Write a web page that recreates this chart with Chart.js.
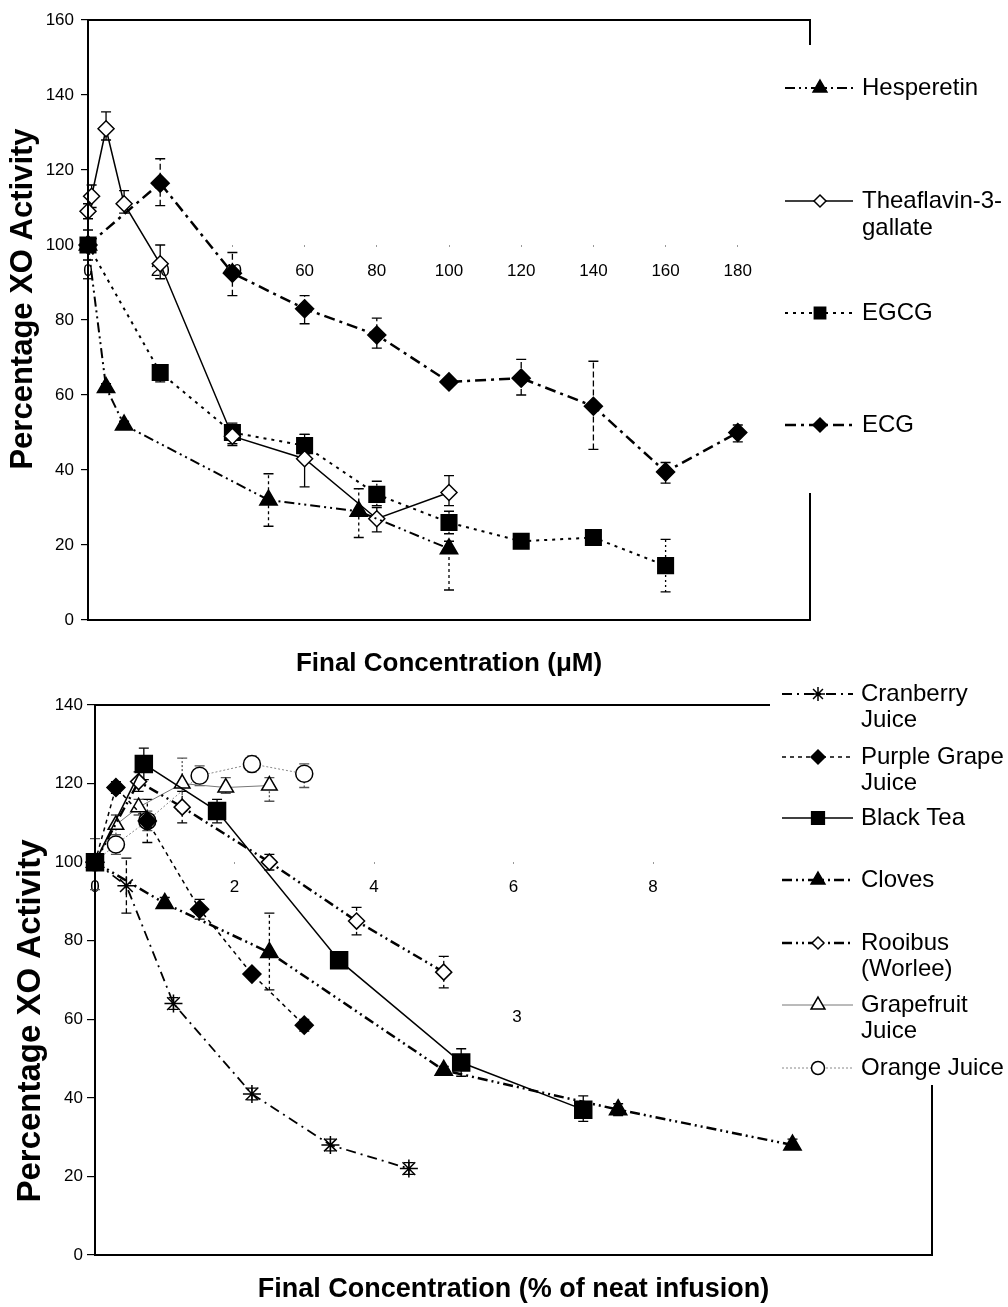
<!DOCTYPE html>
<html><head><meta charset="utf-8">
<script src="https://cdn.jsdelivr.net/npm/chart.js@4.4.1/dist/chart.umd.min.js"></script>
<style>
html,body{margin:0;padding:0;background:#fff;}
#wrap{position:relative;width:1008px;height:1307px;}
canvas{position:absolute;left:0;}
</style>
</head><body>
<div id="wrap">
<canvas id="c1" width="1008" height="680" style="top:0px"></canvas>
<canvas id="c2" width="1008" height="627" style="top:680px"></canvas>
</div>
<script>
// ---------------- TOP CHART DATA (µM) ----------------
const topXTicks = [0, 20, 40, 60, 80, 100, 120, 140, 160, 180, 200];
const topYTicks = [0, 20, 40, 60, 80, 100, 120, 140, 160];

const hespX  = [0, 5, 10, 50, 75, 100];
const hespY  = [100, 62, 52, 32, 29, 19];
const hespLo = [91, 61, 51, 25, 22, 8];
const hespHi = [100, 63, 53, 39, 35, 21];

const tf3gX  = [0, 1, 5, 10, 20, 40, 60, 80, 100];
const tf3gY  = [109, 113, 131, 111, 95, 49, 43, 27, 34];
const tf3gLo = [107, 110, 128, 108.5, 91, 47, 35.5, 23.5, 30.5];
const tf3gHi = [111, 116, 135.5, 114.5, 100, 52, 49.5, 30, 38.5];

const egcgX  = [0, 20, 40, 60, 80, 100, 120, 140, 160];
const egcgY  = [100, 66, 50, 46.5, 33.5, 26, 21, 22, 14.5];
const egcgLo = [96, 63.5, 46.5, 44, 30.5, 23, 19.5, 20.5, 7.5];
const egcgHi = [104, 68, 52.5, 49.5, 37, 29, 22.5, 23.5, 21.5];

const ecgX  = [0, 20, 40, 60, 80, 100, 120, 140, 160, 180];
const ecgY  = [100, 116.5, 92.5, 83, 76, 63.5, 64.5, 57, 39.5, 50];
const ecgLo = [100, 110.5, 86.5, 79, 72.5, 62.5, 60, 45.5, 36.5, 47.5];
const ecgHi = [100, 123, 98, 86.5, 80.5, 64.5, 69.5, 69, 42, 52];

const topLegend = [['Hesperetin'], ['Theaflavin-3-', 'gallate'], ['EGCG'], ['ECG']];

// ---------------- BOTTOM CHART DATA (% of neat infusion) ----------------
const botXTicks = [0, 2, 4, 6, 8, 10, 12];
const botYTicks = [0, 20, 40, 60, 80, 100, 120, 140];

const cranX  = [0, 0.45, 1.125, 2.25, 3.375, 4.5];
const cranY  = [100, 94, 64, 41, 28, 22];
const cranLo = [100, 87, 62.5, 39.5, 26.5, 20.5];
const cranHi = [100, 101, 65.5, 42.5, 29.5, 23.5];

const grapeX  = [0, 0.3, 0.75, 1.5, 2.25, 3];
const grapeY  = [100, 119, 110.5, 88, 71.5, 58.5];
const grapeLo = [100, 117.5, 105, 85.5, 70.5, 57];
const grapeHi = [100, 120.5, 116, 90.5, 72.5, 60];

const teaX  = [0, 0.7, 1.75, 3.5, 5.25, 7];
const teaY  = [100, 125, 113, 75, 49, 37];
const teaLo = [100, 121, 110, 74, 45.5, 34];
const teaHi = [100, 129, 116, 76, 52.5, 40.5];

const cloveX  = [0, 1, 2.5, 5, 7.5, 10];
const cloveY  = [100, 89.5, 77, 47, 37, 28];
const cloveLo = [100, 88.5, 67.5, 46, 35.5, 27];
const cloveHi = [100, 91, 87, 48, 38.5, 29.5];

const rooiX  = [0, 0.625, 1.25, 2.5, 3.75, 5];
const rooiY  = [100, 120.5, 114, 100, 85, 72];
const rooiLo = [100, 118, 110, 98, 81.5, 68];
const rooiHi = [100, 123, 118, 102, 88.5, 76];

const gfruitX  = [0, 0.3, 0.625, 1.25, 1.875, 2.5];
const gfruitY  = [100, 109.5, 114, 120, 119, 119.5];
const gfruitLo = [100, 107, 112, 113, 117.5, 115.5];
const gfruitHi = [100, 112, 116, 126.5, 121.5, 121.5];

const orangeX  = [0, 0.3, 0.75, 1.5, 2.25, 3];
const orangeY  = [100, 104.5, 110.5, 122, 125, 122.5];
const orangeLo = [93, 102, 108, 119.5, 123, 119];
const orangeHi = [106, 107, 113, 124.5, 127, 125];

const botLegend = [['Cranberry', 'Juice'], ['Purple Grape', 'Juice'], ['Black Tea'], ['Cloves'],
                   ['Rooibus', '(Worlee)'], ['Grapefruit', 'Juice'], ['Orange Juice']];
const botStrayLabels = [{ text: '3', x: 6.05, y: 60.5 }];

const yTitleText = 'Percentage XO Activity';

// ---------------- helpers ----------------
const FONT = "'Liberation Sans', Arial, Helvetica, sans-serif";
const pts = (xs, ys) => xs.map((x, i) => ({ x: x, y: ys[i] }));

function series(label, xs, ys, lo, hi, st) {
  return Object.assign({
    label: label, data: pts(xs, ys), errLo: lo, errHi: hi,
    xAxisID: 'x', yAxisID: 'y', showLine: true, tension: 0,
    borderColor: '#000', pointBorderColor: '#000', pointBorderWidth: 1.5,
    pointHoverRadius: 0, clip: false
  }, st);
}

const errorBarPlugin = {
  id: 'errorBars',
  beforeDatasetsDraw(chart) {
    const ctx = chart.ctx, xs = chart.scales.x, ys = chart.scales.y;
    chart.data.datasets.forEach(ds => {
      if (!ds.errLo) return;
      ctx.save();
      ctx.strokeStyle = ds.errColor || '#000';
      ctx.lineWidth = 1.3;
      ds.data.forEach((p, i) => {
        const lo = ds.errLo[i], hi = ds.errHi[i];
        if (lo === p.y && hi === p.y) return;
        const px = xs.getPixelForValue(p.x);
        const pl = ys.getPixelForValue(lo), ph = ys.getPixelForValue(hi);
        ctx.setLineDash(ds.errDash || []);
        ctx.beginPath(); ctx.moveTo(px, pl); ctx.lineTo(px, ph); ctx.stroke();
        ctx.setLineDash([]);
        ctx.beginPath();
        if (lo < p.y) { ctx.moveTo(px - 5, pl); ctx.lineTo(px + 5, pl); }
        if (hi > p.y) { ctx.moveTo(px - 5, ph); ctx.lineTo(px + 5, ph); }
        ctx.stroke();
      });
      ctx.restore();
    });
  }
};

function drawMarker(ctx, style, r, x, y, bw) {
  if (Chart.helpers && Chart.helpers.drawPoint) {
    Chart.helpers.drawPoint(ctx, { pointStyle: style, radius: r, rotation: 0, borderWidth: bw }, x, y);
  }
}

const framePlugin = {
  id: 'frame',
  afterDraw(chart, args, opts) {
    const ctx = chart.ctx, a = chart.chartArea;
    ctx.save();
    ctx.strokeStyle = '#000'; ctx.lineWidth = 2; ctx.setLineDash([]);
    ctx.strokeRect(a.left, a.top, a.right - a.left, a.bottom - a.top);
    // vertical axis title
    const T = opts.yTitle;
    ctx.save();
    ctx.translate(T.x, T.y); ctx.rotate(-Math.PI / 2);
    ctx.fillStyle = '#000'; ctx.font = 'bold ' + T.size + 'px ' + FONT;
    ctx.textAlign = 'center'; ctx.textBaseline = 'middle';
    ctx.fillText(T.text, 0, 0);
    ctx.restore();
    // stray labels
    (opts.labels || []).forEach(l => {
      ctx.fillStyle = '#000'; ctx.font = '17px ' + FONT;
      ctx.textAlign = 'center'; ctx.textBaseline = 'middle';
      ctx.fillText(l.text, chart.scales.x.getPixelForValue(l.x), chart.scales.y.getPixelForValue(l.y));
    });
    // legend
    const L = opts.legend;
    ctx.fillStyle = '#fff';
    ctx.fillRect(L.box[0], L.box[1], L.box[2], L.box[3]);
    chart.data.datasets.forEach((ds, i) => {
      const y = L.ys[i];
      ctx.strokeStyle = ds.borderColor; ctx.lineWidth = ds.borderWidth;
      ctx.setLineDash(ds.borderDash || []);
      ctx.beginPath(); ctx.moveTo(L.x1, y); ctx.lineTo(L.x2, y); ctx.stroke();
      ctx.setLineDash([]);
      ctx.fillStyle = ds.pointBackgroundColor; ctx.strokeStyle = '#000';
      ctx.lineWidth = ds.pointBorderWidth;
      drawMarker(ctx, ds.pointStyle, ds.legendRadius, L.xm, y, ds.pointBorderWidth);
      ctx.fillStyle = '#000'; ctx.font = L.fontSize + 'px ' + FONT;
      ctx.textAlign = 'left'; ctx.textBaseline = 'middle';
      ds.legendLines.forEach((t, k) => ctx.fillText(t, L.xt, y + k * L.lh));
    });
    ctx.restore();
  }
};

function axes(o) {
  return {
    x: {
      type: 'linear', position: { y: 100 }, min: o.xTicks[0], max: o.xTicks[o.xTicks.length - 1],
      afterBuildTicks: s => { s.ticks = o.xTicks.map(v => ({ value: v })); },
      ticks: { autoSkip: false, maxRotation: 0, color: '#000', font: { family: FONT, size: 17 }, padding: o.xPad },
      grid: { drawOnChartArea: false, drawTicks: true, tickLength: 2, color: '#999', lineWidth: 1 },
      border: { display: false }
    },
    xt: {
      type: 'linear', position: 'bottom', display: true,
      ticks: { display: false }, grid: { display: false }, border: { display: false },
      title: { display: true, text: o.xTitle, color: '#000',
               font: { family: FONT, size: o.xTitleSize, weight: 'bold' }, padding: { top: 0, bottom: 1 } },
      afterFit: s => { s.height = o.xtHeight; }
    },
    y: {
      type: 'linear', min: o.yTicks[0], max: o.yTicks[o.yTicks.length - 1],
      afterBuildTicks: s => { s.ticks = o.yTicks.map(v => ({ value: v })); },
      ticks: { color: '#000', font: { family: FONT, size: 17 }, padding: o.yPad },
      grid: { drawOnChartArea: false, drawTicks: true, tickLength: o.yTick, color: '#000', lineWidth: 1.2 },
      border: { display: false },
      title: { display: false },
      afterFit: s => { s.width = o.yWidth; }
    }
  };
}

const common = {
  type: 'scatter',
  plugins: [errorBarPlugin, framePlugin]
};

// ---------------- TOP CHART ----------------
new Chart(document.getElementById('c1'), Object.assign({}, common, {
  data: {
    datasets: [
      series('Hesperetin', hespX, hespY, hespLo, hespHi, {
        borderWidth: 2, borderDash: [10, 4, 2, 4, 2, 4], errDash: [3, 3],
        pointStyle: 'triangle', pointRadius: 10, pointBackgroundColor: '#000', legendRadius: 8, legendLines: topLegend[0] }),
      series('Theaflavin-3-gallate', tf3gX, tf3gY, tf3gLo, tf3gHi, {
        borderWidth: 1.5, borderDash: [],
        pointStyle: 'rectRot', pointRadius: 8, pointBackgroundColor: '#fff', legendRadius: 6, legendLines: topLegend[1] }),
      series('EGCG', egcgX, egcgY, egcgLo, egcgHi, {
        borderWidth: 2, borderDash: [3, 5], errDash: [2, 3],
        pointStyle: 'rect', pointRadius: 11, pointBackgroundColor: '#000', legendRadius: 8, legendLines: topLegend[2] }),
      series('ECG', ecgX, ecgY, ecgLo, ecgHi, {
        borderWidth: 2.5, borderDash: [11, 5, 3, 5], errDash: [6, 3],
        pointStyle: 'rectRot', pointRadius: 9, pointBackgroundColor: '#000', legendRadius: 7, legendLines: topLegend[3] })
    ]
  },
  options: {
    responsive: false, animation: false, devicePixelRatio: 1,
    layout: { padding: { left: 0, right: 198, top: 20, bottom: 0 } },
    scales: axes({ xTicks: topXTicks, yTicks: topYTicks, xPad: 14, yPad: 7, yTick: 7, yWidth: 88,
                   xTitle: 'Final Concentration (μM)', xTitleSize: 26, xtHeight: 60 }),
    plugins: {
      legend: { display: false }, tooltip: { enabled: false },
      frame: { yTitle: { text: yTitleText, x: 23, y: 299, size: 31 },
               legend: { box: [773, 45, 235, 448], ys: [88, 201, 313, 425], x1: 785, x2: 853, xm: 820, xt: 862, lh: 27, fontSize: 24 } }
    }
  }
}));

// ---------------- BOTTOM CHART ----------------
new Chart(document.getElementById('c2'), Object.assign({}, common, {
  data: {
    datasets: [
      series('Cranberry Juice', cranX, cranY, cranLo, cranHi, {
        borderWidth: 1.8, borderDash: [10, 5, 2, 5], errDash: [5, 3],
        pointStyle: 'star', pointRadius: 9, pointBackgroundColor: '#000', legendRadius: 7, legendLines: botLegend[0] }),
      series('Purple Grape Juice', grapeX, grapeY, grapeLo, grapeHi, {
        borderWidth: 1.5, borderDash: [4, 4], errDash: [3, 3],
        pointStyle: 'rectRot', pointRadius: 9, pointBackgroundColor: '#000', legendRadius: 7, legendLines: botLegend[1] }),
      series('Black Tea', teaX, teaY, teaLo, teaHi, {
        borderWidth: 1.5, borderDash: [],
        pointStyle: 'rect', pointRadius: 12, pointBackgroundColor: '#000', legendRadius: 9, legendLines: botLegend[2] }),
      series('Cloves', cloveX, cloveY, cloveLo, cloveHi, {
        borderWidth: 2.5, borderDash: [10, 4, 2, 4, 2, 4], errDash: [3, 3],
        pointStyle: 'triangle', pointRadius: 10, pointBackgroundColor: '#000', legendRadius: 8, legendLines: botLegend[3] }),
      series('Rooibus (Worlee)', rooiX, rooiY, rooiLo, rooiHi, {
        borderWidth: 2.5, borderDash: [10, 4, 2, 4, 2, 4], errDash: [3, 3],
        pointStyle: 'rectRot', pointRadius: 8, pointBackgroundColor: '#fff', legendRadius: 6, legendLines: botLegend[4] }),
      series('Grapefruit Juice', gfruitX, gfruitY, gfruitLo, gfruitHi, {
        borderWidth: 1, borderColor: '#777', borderDash: [], errColor: '#555', errDash: [2, 2],
        pointStyle: 'triangle', pointRadius: 9, pointBackgroundColor: '#fff', legendRadius: 8, legendLines: botLegend[5] }),
      series('Orange Juice', orangeX, orangeY, orangeLo, orangeHi, {
        borderWidth: 1, borderColor: '#888', borderDash: [2, 2], errColor: '#555', errDash: [2, 2],
        pointStyle: 'circle', pointRadius: 8.5, pointBackgroundColor: '#fff', legendRadius: 6.5, legendLines: botLegend[6] })
    ]
  },
  options: {
    responsive: false, animation: false, devicePixelRatio: 1,
    layout: { padding: { left: 0, right: 76, top: 25, bottom: 0 } },
    scales: axes({ xTicks: botXTicks, yTicks: botYTicks, xPad: 13, yPad: 4, yTick: 8, yWidth: 95,
                   xTitle: 'Final Concentration (% of neat infusion)', xTitleSize: 27, xtHeight: 52 }),
    plugins: {
      legend: { display: false }, tooltip: { enabled: false },
      frame: { labels: botStrayLabels,
               yTitle: { text: yTitleText, x: 31, y: 341, size: 33 },
               legend: { box: [770, 0, 238, 405], ys: [14, 77, 138, 200, 263, 325, 388], x1: 782, x2: 853, xm: 818, xt: 861, lh: 26, fontSize: 24 } }
    }
  }
}));
</script>
</body></html>
